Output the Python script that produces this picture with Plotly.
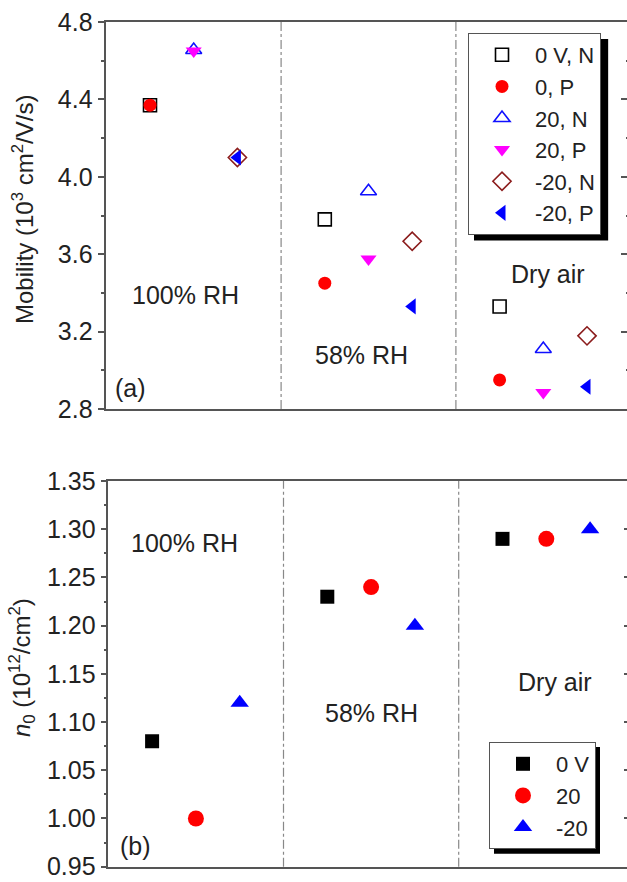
import plotly.graph_objects as go

# ---------------- data ----------------
conditions = ["100% RH", "58% RH", "Dry air"]
# x slot of each bias within a condition group (group g occupies 4*g + slot)
bias_slot = {"0": 1, "20": 2, "-20": 3}

# Panel (a): mobility (10^3 cm^2/V/s), one value per condition
mob_0V_N = [4.37, 3.78, 3.33]
mob_0_P = [4.37, 3.45, 2.95]
mob_20_N = [4.655, 3.925, 3.11]
mob_20_P = [4.65, 3.575, 2.885]
mob_m20_N = [4.10, 3.667, 3.178]
mob_m20_P = [4.10, 3.33, 2.915]

# Panel (b): n0 (10^12/cm^2)
n0_0V = [1.08, 1.23, 1.29]
n0_20 = [1.00, 1.24, 1.29]
n0_m20 = [1.12, 1.20, 1.30]

mob_ticks = [2.8, 3.2, 3.6, 4.0, 4.4, 4.8]
n0_ticks = [0.95, 1.00, 1.05, 1.10, 1.15, 1.20, 1.25, 1.30, 1.35]


def xpos(bias):
    return [4 * g + bias_slot[bias] for g in range(len(conditions))]


W, H = 627, 882
FONT = "Arial, Liberation Sans, sans-serif"
AX = "#555555"
TXT = "#222222"

fig = go.Figure()

top_series = [
    ("0 V, N", "0", mob_0V_N, "square-open", "black", 13, 1.6),
    ("0, P", "0", mob_0_P, "circle", "#ff0000", 13, 0),
    ("20, N", "20", mob_20_N, "triangle-up-open", "#1010ff", 14, 1.6),
    ("20, P", "20", mob_20_P, "triangle-down", "#ff00ff", 14, 0),
    ("-20, N", "-20", mob_m20_N, "diamond-open", "#8b1c1c", 14, 1.6),
    ("-20, P", "-20", mob_m20_P, "triangle-left", "#0000ff", 14, 0),
]
for name, b, vals, sym, col, sz, lw in top_series:
    fig.add_trace(go.Scatter(
        x=xpos(b), y=vals, mode="markers", name=name,
        marker=dict(symbol=sym, color=col, size=sz, line=dict(color=col, width=lw)),
        xaxis="x", yaxis="y", legend="legend"))

bot_series = [
    ("0 V", "0", n0_0V, "square", "black", 14),
    ("20", "20", n0_20, "circle", "#ff0000", 16),
    ("-20", "-20", n0_m20, "triangle-up", "#0000ff", 16),
]
for name, b, vals, sym, col, sz in bot_series:
    fig.add_trace(go.Scatter(
        x=xpos(b), y=vals, mode="markers", name=name,
        marker=dict(symbol=sym, color=col, size=sz, line=dict(width=0)),
        xaxis="x2", yaxis="y2", legend="legend2"))

# empty traces so that the right-hand tick axes are drawn
fig.add_trace(go.Scatter(x=[], y=[], xaxis="x", yaxis="y3", showlegend=False, hoverinfo="skip"))
fig.add_trace(go.Scatter(x=[], y=[], xaxis="x2", yaxis="y4", showlegend=False, hoverinfo="skip"))

# pixel-based domains
def px_x(p):
    return p / W

def px_y(p):
    return 1 - p / H

top_left, top_t, top_b = 106.3, 22, 409
bot_left, bot_t, bot_b = 108.3, 481, 866.7

xcommon = dict(showticklabels=False, ticks="", showgrid=False, zeroline=False, automargin=False,
               showline=True, mirror=True, linecolor=AX, linewidth=1.5)
ycommon = dict(showgrid=False, zeroline=False, showline=True, linecolor=AX, linewidth=1.5,
               ticks="outside", tickcolor=AX, tickwidth=1.5, automargin=False,
               tickfont=dict(size=25, color=TXT, family=FONT))

LEG_FONT = 22
# plotly legend geometry (vertical): item height = 1.3*font + 3, padding 2*(border+5)
item_h = 1.3 * LEG_FONT + 3
top_leg = dict(left=468, top=33, n=6, text_w=2.78 * LEG_FONT)
bot_leg = dict(left=489, top=742, n=3, text_w=1.50 * LEG_FONT)
ITEMW = 56

fig.update_layout(
    width=W, height=H, margin=dict(l=0, r=0, t=0, b=0, pad=0, autoexpand=False),
    paper_bgcolor="white", plot_bgcolor="white",
    font=dict(family=FONT, color=TXT),
    xaxis=dict(domain=[px_x(top_left), 1], range=[0, (W - top_left) / 43.7], anchor="y", **xcommon),
    yaxis=dict(domain=[px_y(top_b), px_y(top_t)], range=[2.8, 4.8], anchor="x",
               tickvals=mob_ticks, tickformat=".1f", ticklen=7,
               minor=dict(dtick=0.2, ticks="outside", ticklen=3.5, tickcolor=AX, tickwidth=1.5),
               **ycommon),
    yaxis3=dict(overlaying="y", anchor="free", position=1, side="right", range=[2.8, 4.8],
                showline=False, showgrid=False, zeroline=False, showticklabels=False, automargin=False,
                tickvals=mob_ticks, ticks="inside", ticklen=6, tickcolor=AX, tickwidth=1.5,
                minor=dict(dtick=0.2, ticks="inside", ticklen=1.5, tickcolor=AX, tickwidth=1.5)),
    xaxis2=dict(domain=[px_x(bot_left), 1], range=[0, (W - bot_left) / 43.8], anchor="y2", **xcommon),
    yaxis2=dict(domain=[px_y(bot_b), px_y(bot_t)], range=[0.95, 1.35], anchor="x2",
                tickvals=n0_ticks, tickformat=".2f", ticklen=6,
                minor=dict(dtick=0.025, ticks="outside", ticklen=3, tickcolor=AX, tickwidth=1.5),
                **ycommon),
    yaxis4=dict(overlaying="y2", anchor="free", position=1, side="right", range=[0.95, 1.35],
                showline=False, showgrid=False, zeroline=False, showticklabels=False, automargin=False,
                tickvals=n0_ticks, ticks="inside", ticklen=3, tickcolor=AX, tickwidth=1.5),
    legend=dict(x=px_x(top_leg["left"]), y=px_y(top_leg["top"]), xanchor="left", yanchor="top",
                bgcolor="white", bordercolor=AX, borderwidth=1,
                font=dict(size=LEG_FONT, color=TXT, family=FONT), itemwidth=ITEMW, tracegroupgap=0),
    legend2=dict(x=px_x(bot_leg["left"]), y=px_y(bot_leg["top"]), xanchor="left", yanchor="top",
                 bgcolor="white", bordercolor=AX, borderwidth=1,
                 font=dict(size=LEG_FONT, color=TXT, family=FONT), itemwidth=ITEMW, tracegroupgap=0),
    showlegend=True,
)

# dash-dot dividers between humidity groups
for g in range(1, len(conditions)):
    for xr, yr in (("x", "y domain"), ("x2", "y2 domain")):
        fig.add_shape(type="line", xref=xr, yref=yr, x0=4 * g, x1=4 * g, y0=0, y1=1,
                      line=dict(color="#888888", width=1.2, dash="dashdot"))


# legend shadow: black box offset behind the (white, opaque) legend box
def shadow(leg, off):
    w = leg["text_w"] + ITEMW + 10 + 5 + 2
    h = leg["n"] * item_h + 12
    l, t = leg["left"], leg["top"]
    fig.add_shape(type="rect", xref="paper", yref="paper",
                  x0=px_x(l + off), x1=px_x(l + w + off),
                  y0=px_y(t + h + off), y1=px_y(t + off),
                  fillcolor="black", line=dict(width=0), layer="above")


shadow(top_leg, 6)
shadow(bot_leg, 5)

# texts
ann_font = dict(size=25, color=TXT, family=FONT)
top_labels = [(1.82, 3.39), (5.83, 3.08), (10.1, 3.50)]
bot_labels = [(1.75, 1.286), (6.02, 1.109), (10.2, 1.1415)]
for (cx, cy), lab in zip(top_labels, conditions):
    fig.add_annotation(x=cx, y=cy, xref="x", yref="y", text=lab, showarrow=False, font=ann_font)
for (cx, cy), lab in zip(bot_labels, conditions):
    fig.add_annotation(x=cx, y=cy, xref="x2", yref="y2", text=lab, showarrow=False, font=ann_font)
fig.add_annotation(x=0.15, y=2.91, xref="x", yref="y", text="(a)", showarrow=False,
                   xanchor="left", font=ann_font)
fig.add_annotation(x=0.22, y=0.9714, xref="x2", yref="y2", text="(b)", showarrow=False,
                   xanchor="left", font=ann_font)

# y-axis titles
fig.add_annotation(x=px_x(23), y=px_y(210), xref="paper", yref="paper", textangle=-90,
                   xanchor="center", yanchor="middle",
                   text="Mobility (10<sup>3</sup> cm<sup>2</sup>/V/s)", showarrow=False,
                   font=dict(size=24, color=TXT, family=FONT))
fig.add_annotation(x=px_x(22), y=px_y(668), xref="paper", yref="paper", textangle=-90,
                   xanchor="center", yanchor="middle",
                   text="<i>n</i><sub>0</sub> (10<sup>12</sup>/cm<sup>2</sup>)", showarrow=False,
                   font=dict(size=24, color=TXT, family=FONT))

# the page body has a default 8px margin; remove it so the figure sits at the window origin
fig.write_html("out.html", config={"displayModeBar": False},
               post_script="document.body.style.margin='0';")
